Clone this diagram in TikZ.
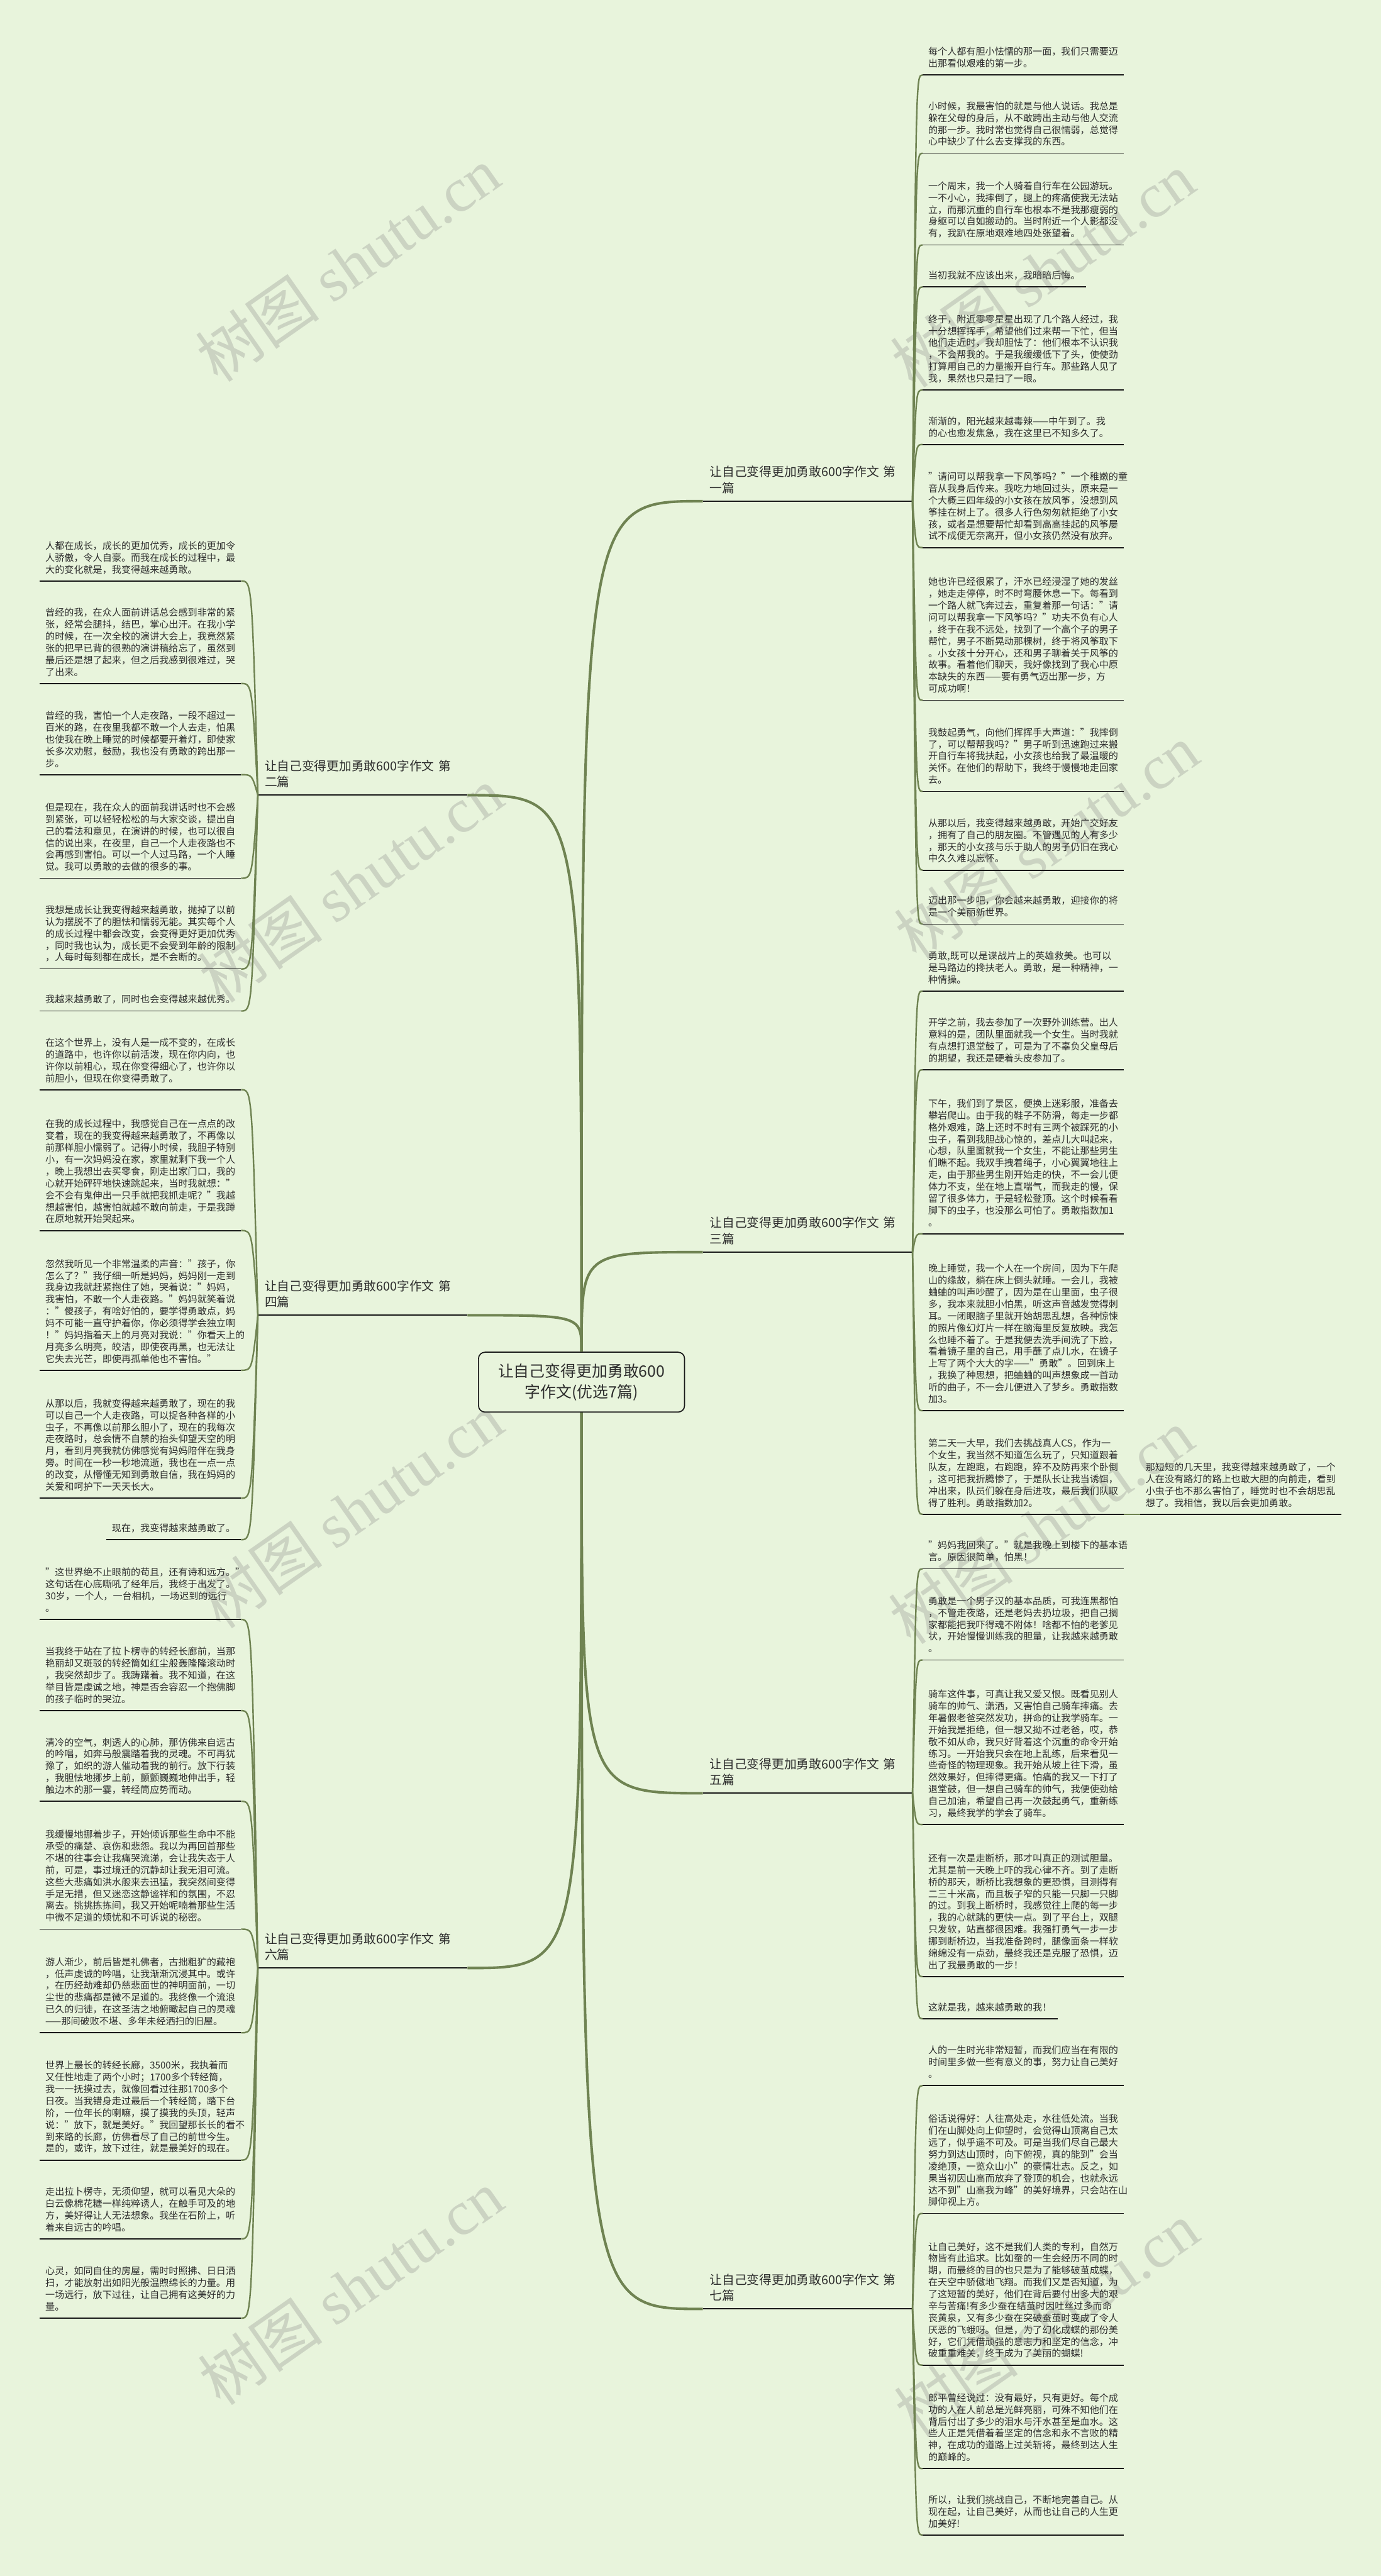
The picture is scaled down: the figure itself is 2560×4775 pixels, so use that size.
\documentclass[tikz,border=0pt]{standalone}
\usepackage{fontspec}
\setmainfont{Noto Sans CJK SC}
\newfontfamily\wmserif{Liberation Serif}
\usetikzlibrary{calc}
\definecolor{bg}{RGB}{232,244,220}
\definecolor{conn}{RGB}{111,131,82}
\definecolor{ulc}{RGB}{25,25,25}
\definecolor{txt}{RGB}{45,45,45}
\newcommand\myul[1]{\draw[ulstyle] (#1.south west) -- (#1.south east);}
\newcommand\myconn[2]{\draw[leafconn] (#1) .. controls ($(#1 |- #2)!0.35!(#2)$) .. (#2);}
\tikzset{
  leafbase/.style={inner xsep=2.5pt, inner ysep=2.5pt, text=txt,
    font=\fontsize{4.4pt}{5.5pt}\selectfont,
    execute at end node={\rule[-1pt]{0pt}{1pt}}},
  leaf/.style={leafbase, text width=88pt, align=left},
  leafR/.style={leaf, anchor=south west},
  leafL/.style={leaf, anchor=south east},
  branch/.style={inner xsep=3pt, inner ysep=2.75pt, text=txt, text width=90.75pt, align=left,
    font=\fontsize{5.75pt}{7.5pt}\selectfont,
    execute at end node={\rule[-1pt]{0pt}{1pt}}},
  branchR/.style={branch, anchor=south west},
  branchL/.style={branch, anchor=south west},
  ulstyle/.style={ulc, line width=0.5pt},
  brul/.style={ulc, line width=0.6pt},
  leafconn/.style={conn, line width=0.7pt},
  mainconn/.style={conn, line width=1.2pt},
  centerbox/.style={draw=ulc, line width=0.5pt, rounded corners=3pt, fill=bg, text=txt,
    minimum width=95.5pt, minimum height=27.75pt, align=center,
    font=\fontsize{7.25pt}{9.5pt}\selectfont},
  wm/.style={text=gray, opacity=0.28, font=\fontsize{29pt}{30pt}\selectfont, rotate=35}
}
\begin{document}
\begin{tikzpicture}[x=0.25pt,y=-0.25pt]
\useasboundingbox (0,0) rectangle (2560,4775);
\fill[bg] (0,0) rectangle (2560,4775);

% watermarks
\node[wm] (w1) at (645,490) {树图 {\wmserif shutu.cn}};
\node[wm] (w2) at (1933,500) {树图 {\wmserif shutu.cn}};
\node[wm] (w3) at (650,1640) {树图 {\wmserif shutu.cn}};
\node[wm] (w4) at (1940,1560) {树图 {\wmserif shutu.cn}};
\node[wm] (w5) at (650,2800) {树图 {\wmserif shutu.cn}};
\node[wm] (w6) at (1930,2830) {树图 {\wmserif shutu.cn}};
\node[wm] (w7) at (650,4240) {树图 {\wmserif shutu.cn}};
\node[wm] (w8) at (1940,4300) {树图 {\wmserif shutu.cn}};

% center
\node[centerbox] (C) at (1078,2562) {让自己变得更加勇敢600\\字作文(优选7篇)};

% branches
\node[branchR] (B1) at (1303,929) {让自己变得更加勇敢600字作文 第\\一篇};
\node[branchR] (B3) at (1303,2321) {让自己变得更加勇敢600字作文 第\\三篇};
\node[branchR] (B5) at (1303,3324) {让自己变得更加勇敢600字作文 第\\五篇};
\node[branchR] (B7) at (1303,4280) {让自己变得更加勇敢600字作文 第\\七篇};
\node[branchL] (B2) at (478,1474) {让自己变得更加勇敢600字作文 第\\二篇};
\node[branchL] (B4) at (478,2438) {让自己变得更加勇敢600字作文 第\\四篇};
\node[branchL] (B6) at (478,3648) {让自己变得更加勇敢600字作文 第\\六篇};
\foreach \b in {B1,B2,B3,B4,B5,B6,B7} {\draw[brul] (\b.south west) -- (\b.south east);}

% main connectors
\draw[mainconn] (C.north) .. controls (C.north |- B1.south west) .. (B1.south west);
\draw[mainconn] (C.north) .. controls (C.north |- B3.south west) .. (B3.south west);
\draw[mainconn] (C.north) .. controls (C.north |- B2.south east) .. (B2.south east);
\draw[mainconn] (C.north) .. controls (C.north |- B4.south east) .. (B4.south east);
\draw[mainconn] (C.south) .. controls (C.south |- B5.south west) .. (B5.south west);
\draw[mainconn] (C.south) .. controls (C.south |- B6.south east) .. (B6.south east);
\draw[mainconn] (C.south) .. controls (C.south |- B7.south west) .. (B7.south west);

% ---------- branch 1 leaves
\node[leafR] (R1) at (1710,139) {每个人都有胆小怯懦的那一面，我们只需要迈\\出那看似艰难的第一步。};
\node[leafR] (R2) at (1710,284) {小时候，我最害怕的就是与他人说话。我总是\\躲在父母的身后，从不敢跨出主动与他人交流\\的那一步。我时常也觉得自己很懦弱，总觉得\\心中缺少了什么去支撑我的东西。};
\node[leafR] (R3) at (1710,454) {一个周末，我一个人骑着自行车在公园游玩。\\一不小心，我摔倒了，腿上的疼痛使我无法站\\立，而那沉重的自行车也根本不是我那瘦弱的\\身躯可以自如搬动的。当时附近一个人影都没\\有，我趴在原地艰难地四处张望着。};
\node[leafbase, anchor=south west] (R4) at (1710,532) {当初我就不应该出来，我暗暗后悔。};
\node[leafR] (R5) at (1710,723) {终于，附近零零星星出现了几个路人经过，我\\十分想挥挥手，希望他们过来帮一下忙，但当\\他们走近时，我却胆怯了：他们根本不认识我\\，不会帮我的。于是我缓缓低下了头，使使劲\\打算用自己的力量搬开自行车。那些路人见了\\我，果然也只是扫了一眼。};
\node[leafR] (R6) at (1710,824) {渐渐的，阳光越来越毒辣——中午到了。我\\的心也愈发焦急，我在这里已不知多久了。};
\node[leafR] (R7) at (1710,1015) {"请问可以帮我拿一下风筝吗？"一个稚嫩的童\\音从我身后传来。我吃力地回过头，原来是一\\个大概三四年级的小女孩在放风筝，没想到风\\筝挂在树上了。很多人行色匆匆就拒绝了小女\\孩，或者是想要帮忙却看到高高挂起的风筝屡\\试不成便无奈离开，但小女孩仍然没有放弃。};
\node[leafR] (R8) at (1710,1298) {她也许已经很累了，汗水已经浸湿了她的发丝\\，她走走停停，时不时弯腰休息一下。每看到\\一个路人就飞奔过去，重复着那一句话："请\\问可以帮我拿一下风筝吗？"功夫不负有心人\\，终于在我不远处，找到了一个高个子的男子\\帮忙，男子不断晃动那棵树，终于将风筝取下\\。小女孩十分开心，还和男子聊着关于风筝的\\故事。看着他们聊天，我好像找到了我心中原\\本缺失的东西——要有勇气迈出那一步，方\\可成功啊！};
\node[leafR] (R9) at (1710,1467) {我鼓起勇气，向他们挥挥手大声道："我摔倒\\了，可以帮帮我吗？"男子听到迅速跑过来搬\\开自行车将我扶起，小女孩也给我了最温暖的\\关怀。在他们的帮助下，我终于慢慢地走回家\\去。};
\node[leafR] (R10) at (1710,1613) {从那以后，我变得越来越勇敢，开始广交好友\\，拥有了自己的朋友圈。不管遇见的人有多少\\，那天的小女孩与乐于助人的男子仍旧在我心\\中久久难以忘怀。};
\node[leafR] (R11) at (1710,1713) {迈出那一步吧，你会越来越勇敢，迎接你的将\\是一个美丽新世界。};

% ---------- branch 3 leaves
\node[leafR] (R12) at (1710,1837) {勇敢,既可以是谍战片上的英雄救美。也可以\\是马路边的搀扶老人。勇敢，是一种精神，一\\种情操。};
\node[leafR] (R13) at (1710,1983) {开学之前，我去参加了一次野外训练营。出人\\意料的是，团队里面就我一个女生。当时我就\\有点想打退堂鼓了，可是为了不辜负父皇母后\\的期望，我还是硬着头皮参加了。};
\node[leafR] (R14) at (1710,2287) {下午，我们到了景区，便换上迷彩服，准备去\\攀岩爬山。由于我的鞋子不防滑，每走一步都\\格外艰难，路上还时不时有三两个被踩死的小\\虫子，看到我胆战心惊的，差点儿大叫起来，\\心想，队里面就我一个女生，不能让那些男生\\们瞧不起。我双手拽着绳子，小心翼翼地往上\\走，由于那些男生刚开始走的快，不一会儿便\\体力不支，坐在地上直喘气，而我走的慢，保\\留了很多体力，于是轻松登顶。这个时候看看\\脚下的虫子，也没那么可怕了。勇敢指数加1\\。};
\node[leafR] (R15) at (1710,2615) {晚上睡觉，我一个人在一个房间，因为下午爬\\山的缘故，躺在床上倒头就睡。一会儿，我被\\蛐蛐的叫声吵醒了，因为是在山里面，虫子很\\多，我本来就胆小怕黑，听这声音越发觉得刺\\耳。一闭眼脑子里就开始胡思乱想，各种惊悚\\的照片像幻灯片一样在脑海里反复放映。我怎\\么也睡不着了。于是我便去洗手间洗了下脸，\\看着镜子里的自己，用手蘸了点儿水，在镜子\\上写了两个大大的字——"勇敢"。回到床上\\，我换了种思想，把蛐蛐的叫声想象成一首动\\听的曲子，不一会儿便进入了梦乡。勇敢指数\\加3。};
\node[leafR] (R16) at (1710,2807) {第二天一大早，我们去挑战真人CS，作为一\\个女生，我当然不知道怎么玩了，只知道跟着\\队友，左跑跑，右跑跑，猝不及防再来个卧倒\\，这可把我折腾惨了，于是队长让我当诱饵，\\冲出来，队员们躲在身后进攻，最后我们队取\\得了胜利。勇敢指数加2。};
\node[leafR] (R16b) at (2113,2807) {那短短的几天里，我变得越来越勇敢了，一个\\人在没有路灯的路上也敢大胆的向前走，看到\\小虫子也不那么害怕了，睡觉时也不会胡思乱\\想了。我相信，我以后会更加勇敢。};

% ---------- branch 5 leaves
\node[leafR] (R17) at (1710,2908) {"妈妈我回来了。"就是我晚上到楼下的基本语\\言。原因很简单，怕黑！};
\node[leafR] (R18) at (1710,3077) {勇敢是一个男子汉的基本品质，可我连黑都怕\\，不管走夜路，还是老妈去扔垃圾，把自己搁\\家都能把我吓得魂不附体！啥都不怕的老爹见\\状，开始慢慢训练我的胆量，让我越来越勇敢\\。};
\node[leafR] (R19) at (1710,3382) {骑车这件事，可真让我又爱又恨。既看见别人\\骑车的帅气、潇洒，又害怕自己骑车摔痛。去\\年暑假老爸突然发功，拼命的让我学骑车。一\\开始我是拒绝，但一想又拗不过老爸，哎，恭\\敬不如从命，我只好背着这个沉重的命令开始\\练习。一开始我只会在地上乱练，后来看见一\\些奇怪的物理现象。我开始从坡上往下滑，虽\\然效果好，但摔得更痛。怕痛的我又一下打了\\退堂鼓，但一想自己骑车的帅气，我便使劲给\\自己加油，希望自己再一次鼓起勇气，重新练\\习，最终我学的学会了骑车。};
\node[leafR] (R20) at (1710,3664) {还有一次是走断桥，那才叫真正的测试胆量。\\尤其是前一天晚上吓的我心律不齐。到了走断\\桥的那天，断桥比我想象的更恐惧，目测得有\\二三十米高，而且板子窄的只能一只脚一只脚\\的过。到我上断桥时，我感觉往上爬的每一步\\，我的心就跳的更快一点。到了平台上，双腿\\只发软，站直都很困难。我强打勇气一步一步\\挪到断桥边，当我准备跨时，腿像面条一样软\\绵绵没有一点劲，最终我还是克服了恐惧，迈\\出了我最勇敢的一步！};
\node[leafbase, anchor=south west] (R21) at (1710,3742) {这就是我，越来越勇敢的我！};

% ---------- branch 7 leaves
\node[leafR] (R22) at (1710,3866) {人的一生时光非常短暂，而我们应当在有限的\\时间里多做一些有意义的事，努力让自己美好\\。};
\node[leafR] (R23) at (1710,4103) {俗话说得好：人往高处走，水往低处流。当我\\们在山脚处向上仰望时，会觉得山顶离自己太\\远了，似乎遥不可及。可是当我们尽自己最大\\努力到达山顶时，向下俯视，真的能到"会当\\凌绝顶，一览众山小"的豪情壮志。反之，如\\果当初因山高而放弃了登顶的机会，也就永远\\达不到"山高我为峰"的美好境界，只会站在山\\脚仰视上方。};
\node[leafR] (R24) at (1710,4384) {让自己美好，这不是我们人类的专利，自然万\\物皆有此追求。比如蚕的一生会经历不同的时\\期，而最终的目的也只是为了能够破茧成蝶，\\在天空中骄傲地飞翔。而我们又是否知道，为\\了这短暂的美好，他们在背后要付出多大的艰\\辛与苦痛!有多少蚕在结茧时因吐丝过多而命\\丧黄泉，又有多少蚕在突破蚕茧时变成了令人\\厌恶的飞蛾呀。但是，为了幻化成蝶的那份美\\好，它们凭借顽强的意志力和坚定的信念，冲\\破重重难关，终于成为了美丽的蝴蝶!};
\node[leafR] (R25) at (1710,4576) {郎平曾经说过：没有最好，只有更好。每个成\\功的人在人前总是光鲜亮丽，可殊不知他们在\\背后付出了多少的泪水与汗水甚至是血水。这\\些人正是凭借着着坚定的信念和永不言败的精\\神，在成功的道路上过关斩将，最终到达人生\\的巅峰的。};
\node[leafR] (R26) at (1710,4699) {所以，让我们挑战自己，不断地完善自己。从\\现在起，让自己美好，从而也让自己的人生更\\加美好!};

% ---------- branch 2 leaves
\node[leafL] (L1) at (447,1077) {人都在成长，成长的更加优秀，成长的更加令\\人骄傲，令人自豪。而我在成长的过程中，最\\大的变化就是，我变得越来越勇敢。};
\node[leafL] (L2) at (447,1267) {曾经的我，在众人面前讲话总会感到非常的紧\\张，经常会腿抖，结巴，掌心出汗。在我小学\\的时候，在一次全校的演讲大会上，我竟然紧\\张的把早已背的很熟的演讲稿给忘了，虽然到\\最后还是想了起来，但之后我感到很难过，哭\\了出来。};
\node[leafL] (L3) at (447,1436) {曾经的我，害怕一个人走夜路，一段不超过一\\百米的路，在夜里我都不敢一个人去走，怕黑\\也使我在晚上睡觉的时候都要开着灯，即使家\\长多次劝慰，鼓励，我也没有勇敢的跨出那一\\步。};
\node[leafL] (L4) at (447,1628) {但是现在，我在众人的面前我讲话时也不会感\\到紧张，可以轻轻松松的与大家交谈，提出自\\己的看法和意见，在演讲的时候，也可以很自\\信的说出来，在夜里，自己一个人走夜路也不\\会再感到害怕。可以一个人过马路，一个人睡\\觉。我可以勇敢的去做的很多的事。};
\node[leafL] (L5) at (447,1796) {我想是成长让我变得越来越勇敢，抛掉了以前\\认为摆脱不了的胆怯和懦弱无能。其实每个人\\的成长过程中都会改变，会变得更好更加优秀\\，同时我也认为，成长更不会受到年龄的限制\\，人每时每刻都在成长，是不会断的。};
\node[leafL] (L6) at (447,1874) {我越来越勇敢了，同时也会变得越来越优秀。};

% ---------- branch 4 leaves
\node[leafL] (L7) at (447,2020) {在这个世界上，没有人是一成不变的，在成长\\的道路中，也许你以前活泼，现在你内向，也\\许你以前粗心，现在你变得细心了，也许你以\\前胆小，但现在你变得勇敢了。};
\node[leafL] (L8) at (447,2281) {在我的成长过程中，我感觉自己在一点点的改\\变着，现在的我变得越来越勇敢了，不再像以\\前那样胆小懦弱了。记得小时候，我胆子特别\\小，有一次妈妈没在家，家里就剩下我一个人\\，晚上我想出去买零食，刚走出家门口，我的\\心就开始砰砰地快速跳起来，当时我就想："\\会不会有鬼伸出一只手就把我抓走呢？"我越\\想越害怕，越害怕就越不敢向前走，于是我蹲\\在原地就开始哭起来。};
\node[leafL] (L9) at (447,2540) {忽然我听见一个非常温柔的声音："孩子，你\\怎么了？"我仔细一听是妈妈，妈妈刚一走到\\我身边我就赶紧抱住了她，哭着说："妈妈，\\我害怕，不敢一个人走夜路。"妈妈就笑着说\\："傻孩子，有啥好怕的，要学得勇敢点，妈\\妈不可能一直守护着你，你必须得学会独立啊\\！"妈妈指着天上的月亮对我说："你看天上的\\月亮多么明亮，皎洁，即使夜再黑，也无法让\\它失去光芒，即使再孤单他也不害怕。"};
\node[leafL] (L10) at (447,2777) {从那以后，我就变得越来越勇敢了，现在的我\\可以自己一个人走夜路，可以捉各种各样的小\\虫子，不再像以前那么胆小了，现在的我每次\\走夜路时，总会情不自禁的抬头仰望天空的明\\月，看到月亮我就仿佛感觉有妈妈陪伴在我身\\旁。时间在一秒一秒地流逝，我也在一点一点\\的改变，从懵懂无知到勇敢自信，我在妈妈的\\关爱和呵护下一天天长大。};
\node[leafbase, anchor=south east] (L11) at (447,2854) {现在，我变得越来越勇敢了。};

% ---------- branch 6 leaves
\node[leafL] (L12) at (447,3002) {"这世界绝不止眼前的苟且，还有诗和远方。"\\这句话在心底嘶吼了经年后，我终于出发了。\\30岁，一个人，一台相机，一场迟到的远行\\。};
\node[leafL] (L13) at (447,3171) {当我终于站在了拉卜楞寺的转经长廊前，当那\\艳丽却又斑驳的转经筒如红尘般轰隆隆滚动时\\，我突然却步了。我踌躇着。我不知道，在这\\举目皆是虔诚之地，神是否会容忍一个抱佛脚\\的孩子临时的哭泣。};
\node[leafL] (L14) at (447,3339) {清冷的空气，刺透人的心肺，那仿佛来自远古\\的吟唱，如奔马般震踏着我的灵魂。不可再犹\\豫了，如织的游人催动着我的前行。放下行装\\，我胆怯地挪步上前，颤颤巍巍地伸出手，轻\\触边木的那一霎，转经筒应势而动。};
\node[leafL] (L15) at (447,3576) {我缓慢地挪着步子，开始倾诉那些生命中不能\\承受的痛楚、哀伤和悲怨。我以为再回首那些\\不堪的往事会让我痛哭流涕，会让我失态于人\\前，可是，事过境迁的沉静却让我无泪可流。\\这些大悲痛如洪水般来去迅猛，我突然间变得\\手足无措，但又迷恋这静谧祥和的氛围，不忍\\离去。挑挑拣拣间，我又开始呢喃着那些生活\\中微不足道的烦忧和不可诉说的秘密。};
\node[leafL] (L16) at (447,3768) {游人渐少，前后皆是礼佛者，古拙粗犷的藏袍\\，低声虔诚的吟唱，让我渐渐沉浸其中。或许\\，在历经劫难却仍慈悲面世的神明面前，一切\\尘世的悲痛都是微不足道的。我终像一个流浪\\已久的归徒，在这圣洁之地俯瞰起自己的灵魂\\——那间破败不堪、多年未经洒扫的旧屋。};
\node[leafL] (L17) at (447,4004) {世界上最长的转经长廊，3500米，我执着而\\又任性地走了两个小时；1700多个转经筒，\\我一一抚摸过去，就像回看过往那1700多个\\日夜。当我错身走过最后一个转经筒，踏下台\\阶，一位年长的喇嘛，摸了摸我的头顶，轻声\\说："放下，就是美好。"我回望那长长的看不\\到来路的长廊，仿佛看尽了自己的前世今生。\\是的，或许，放下过往，就是最美好的现在。};
\node[leafL] (L18) at (447,4150) {走出拉卜楞寺，无须仰望，就可以看见大朵的\\白云像棉花糖一样纯粹诱人，在触手可及的地\\方，美好得让人无法想象。我坐在石阶上，听\\着来自远古的吟唱。};
\node[leafL] (L19) at (447,4297) {心灵，如同自住的房屋，需时时照拂、日日洒\\扫，才能放射出如阳光般温煦绵长的力量。用\\一场远行，放下过往，让自己拥有这美好的力\\量。};

% underlines
\foreach \n in {R1,R2,R3,R4,R5,R6,R7,R8,R9,R10,R11,R12,R13,R14,R15,R16,R16b,R17,R18,R19,R20,R21,R22,R23,R24,R25,R26,L1,L2,L3,L4,L5,L6,L7,L8,L9,L10,L11,L12,L13,L14,L15,L16,L17,L18,L19} {\myul{\n}}

% leaf connectors
\foreach \n in {R1,R2,R3,R4,R5,R6,R7,R8,R9,R10,R11} {\myconn{B1.south east}{\n.south west}}
\foreach \n in {R12,R13,R14,R15,R16} {\myconn{B3.south east}{\n.south west}}
\foreach \n in {R17,R18,R19,R20,R21} {\myconn{B5.south east}{\n.south west}}
\foreach \n in {R22,R23,R24,R25,R26} {\myconn{B7.south east}{\n.south west}}
\foreach \n in {L1,L2,L3,L4,L5,L6} {\myconn{B2.south west}{\n.south east}}
\foreach \n in {L7,L8,L9,L10,L11} {\myconn{B4.south west}{\n.south east}}
\foreach \n in {L12,L13,L14,L15,L16,L17,L18,L19} {\myconn{B6.south west}{\n.south east}}
\draw[leafconn] (R16.south east) -- (R16b.south west);
\end{tikzpicture}
\end{document}
